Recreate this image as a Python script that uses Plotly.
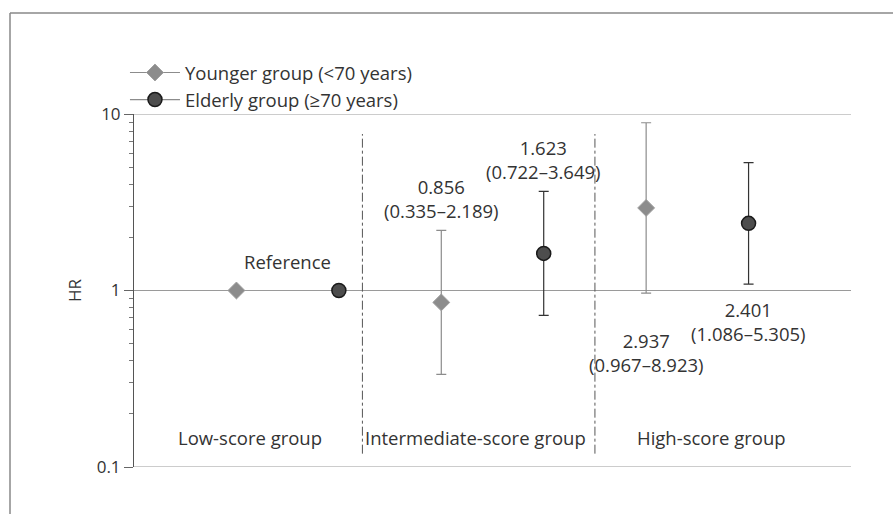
import math
import plotly.graph_objects as go

# Hazard ratios (95% CI) by score group, for each age group
groups = ["Low-score group", "Intermediate-score group", "High-score group"]
younger_hr = [1.0, 0.856, 2.937]
younger_lo = [None, 0.335, 0.967]
younger_hi = [None, 2.189, 8.923]
elderly_hr = [1.0, 1.623, 2.401]
elderly_lo = [None, 0.722, 1.086]
elderly_hi = [None, 3.649, 5.305]
series_names = ["Younger group (<70 years)", "Elderly group (\u226570 years)"]
y_tick_vals = [0.1, 1, 10]
y_tick_text = ["0.1", "1", "10"]

FONT = "Open Sans"
FS = 18.5
TXT = "#333333"
GRID = "#9a9a9a"

# x position: two points per group (younger, elderly)
x_young = [2 * i for i in range(len(groups))]
x_old = [2 * i + 1 for i in range(len(groups))]


def err_plus(hr, hi):
    return [0 if h is None else h - v for v, h in zip(hr, hi)]


def err_minus(hr, lo):
    return [0 if l is None else v - l for v, l in zip(hr, lo)]


fig = go.Figure()

young_style = dict(symbol="diamond", size=13, color="#8c8c8c",
                   line=dict(color="#a0a0a0", width=1))
old_style = dict(symbol="circle", size=14, color="#4d4d4d",
                 line=dict(color="#1a1a1a", width=1.5))

fig.add_trace(go.Scatter(
    x=x_young, y=younger_hr, mode="markers", showlegend=False,
    marker=young_style,
    error_y=dict(type="data", symmetric=False,
                 array=err_plus(younger_hr, younger_hi),
                 arrayminus=err_minus(younger_hr, younger_lo),
                 color="#8c8c8c", thickness=1.2, width=5),
))
fig.add_trace(go.Scatter(
    x=x_old, y=elderly_hr, mode="markers", showlegend=False,
    marker=old_style,
    error_y=dict(type="data", symmetric=False,
                 array=err_plus(elderly_hr, elderly_hi),
                 arrayminus=err_minus(elderly_hr, elderly_lo),
                 color="#333333", thickness=1.2, width=5),
))

# legend entries drawn as line + marker
fig.add_trace(go.Scatter(x=[None], y=[None], mode="lines+markers",
                         name=series_names[0], marker=young_style,
                         line=dict(color="#8c8c8c", width=1.2)))
fig.add_trace(go.Scatter(x=[None], y=[None], mode="lines+markers",
                         name=series_names[1], marker=old_style,
                         line=dict(color="#8c8c8c", width=1.2)))

annotations = []


def ci_label(x, hr, lo, hi, above, shift):
    annotations.append(dict(
        x=x, y=math.log10(hi if above else lo), xref="x", yref="y",
        text=f"{hr:.3f}<br>({lo:.3f}\u2013{hi:.3f})",
        showarrow=False, yanchor="bottom" if above else "top",
        yshift=shift, font=dict(family=FONT, size=FS, color=TXT),
    ))


ci_label(x_young[1], younger_hr[1], younger_lo[1], younger_hi[1], True, 5)
ci_label(x_old[1], elderly_hr[1], elderly_lo[1], elderly_hi[1], True, 5)
ci_label(x_young[2], younger_hr[2], younger_lo[2], younger_hi[2], False, -33)
ci_label(x_old[2], elderly_hr[2], elderly_lo[2], elderly_hi[2], False, -11)

annotations.append(dict(
    x=(x_young[0] + x_old[0]) / 2, y=math.log10(younger_hr[0]),
    text="Reference", showarrow=False, yanchor="middle", yshift=29,
    font=dict(family=FONT, size=FS, color=TXT),
))

group_label_x = [0.13, 2.33, 4.64]
for gx, name in zip(group_label_x, groups):
    annotations.append(dict(
        x=gx, y=-0.835, text=name, showarrow=False, yanchor="middle",
        font=dict(family=FONT, size=FS, color=TXT),
    ))

shapes = []
# horizontal grid lines at the labelled decades
for v in y_tick_vals:
    shapes.append(dict(type="line", xref="paper", yref="y", x0=0, x1=1,
                       y0=v, y1=v, layer="below",
                       line=dict(color=GRID, width=1.2)))
# dash-dot separators between score groups
for sx in [1.23, 3.5]:
    shapes.append(dict(type="line", xref="x", yref="y", x0=sx, x1=sx,
                       y0=0.119, y1=7.7,
                       line=dict(color="#555555", width=1, dash="dashdot")))
# outer frame (top and left edges)
frame_y = (467 - 13) / 353
frame_x = -124 / 717
shapes.append(dict(type="line", xref="paper", yref="paper",
                   x0=frame_x, x1=1.07, y0=frame_y, y1=frame_y,
                   line=dict(color="#888888", width=1.5)))
shapes.append(dict(type="line", xref="paper", yref="paper",
                   x0=frame_x, x1=frame_x, y0=frame_y, y1=-0.2,
                   line=dict(color="#888888", width=1.5)))

fig.update_layout(
    width=893, height=514,
    margin=dict(l=134, r=42, t=114, b=47),
    paper_bgcolor="white", plot_bgcolor="white",
    font=dict(family=FONT, size=FS, color=TXT),
    showlegend=True,
    legend=dict(x=-0.0126, y=1.17, xanchor="left", yanchor="top",
                bgcolor="rgba(0,0,0,0)", font=dict(family=FONT, size=FS, color=TXT),
                tracegroupgap=0, itemwidth=50),
    annotations=annotations,
    shapes=shapes,
)

fig.update_xaxes(range=[-1, 6], visible=False)
fig.update_yaxes(
    type="log", range=[-1, 1],
    tickvals=y_tick_vals, ticktext=y_tick_text,
    ticks="outside", ticklen=9, tickcolor="#666666", tickwidth=1,
    showline=True, linecolor="#555555", linewidth=1,
    showgrid=False, zeroline=False,
    tickfont=dict(family=FONT, size=17, color=TXT),
    title=dict(text="HR", standoff=10, font=dict(family=FONT, size=17, color=TXT)),
    minor=dict(ticks="outside", ticklen=4, tickcolor="#777777", showgrid=False,
               tickvals=[m * d for d in (0.1, 1) for m in range(2, 10)]),
)

fig.write_html("out.html")
